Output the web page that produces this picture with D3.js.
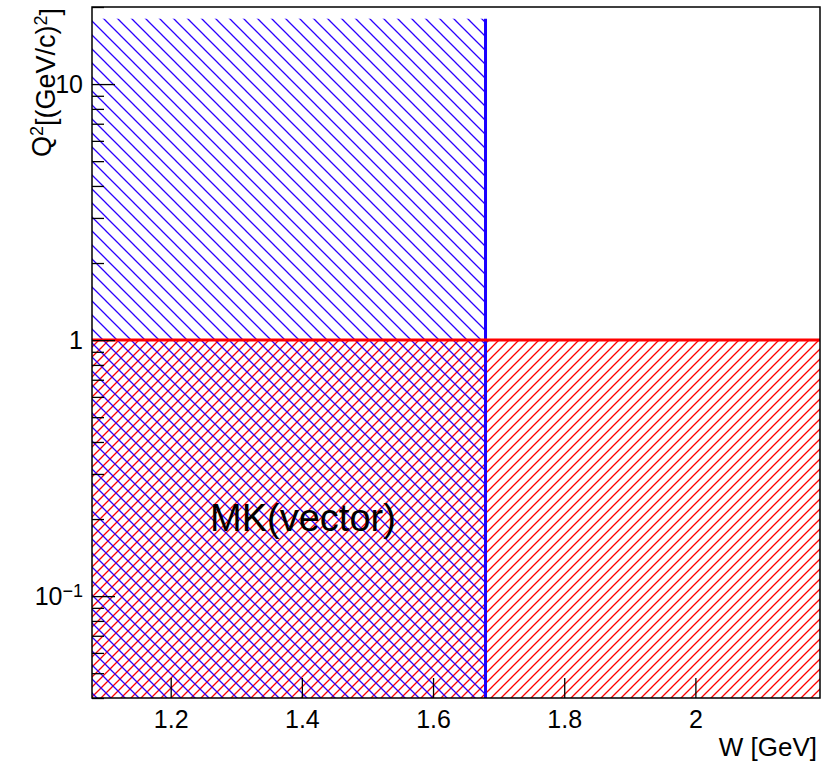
<!DOCTYPE html>
<html>
<head>
<meta charset="utf-8">
<script src="https://cdn.jsdelivr.net/npm/d3@7"></script>
<style>
  html, body { margin: 0; padding: 0; background: #fff; }
  svg { display: block; font-family: "Liberation Sans", Arial, Helvetica, sans-serif; }
</style>
</head>
<body>
<svg id="chart" width="836" height="761"></svg>
<script>
// ---- data ----
const xDomain = [1.08, 2.19];          // W [GeV]
const yDomain = [0.04, 20];            // Q^2 [(GeV/c)^2]
const blueW = [1.08, 1.68];            // region 1 (hatched "\")
const blueQ2 = [0.04, 18];
const redW = [1.08, 2.19];             // region 2 (hatched "/")
const redQ2 = [0.04, 1];
const xTicks = [1.2, 1.4, 1.6, 1.8, 2.0];
const xTickLabels = ["1.2", "1.4", "1.6", "1.8", "2"];
const yMajorTicks = [0.1, 1, 10];
const yMinorTicks = [0.04, 0.05, 0.06, 0.07, 0.08, 0.09,
                     0.2, 0.3, 0.4, 0.5, 0.6, 0.7, 0.8, 0.9,
                     2, 3, 4, 5, 6, 7, 8, 9, 20];
const annotation = { text: "MK(vector)", w: 1.26, q2: 0.18 };

// ---- layout ----
const mL = 92, mR = 820, mT = 7, mB = 698;
const FS = 25;
const svg = d3.select("#chart");
const x = d3.scaleLinear().domain(xDomain).range([mL, mR]);
const y = d3.scaleLog().domain(yDomain).range([mB, mT]);

// ---- hatch patterns ----
const defs = svg.append("defs");
function hatch(id, size, color, dir) {
  const p = defs.append("pattern").attr("id", id)
    .attr("patternUnits", "userSpaceOnUse")
    .attr("width", size).attr("height", size)
    .attr("x", mL).attr("y", mT);
  const d = dir === "back"
    ? `M0,0 L${size},${size} M${-size},0 L${size},${2*size} M0,${-size} L${2*size},${size}`
    : `M0,${size} L${size},0 M${-size},${size} L${size},${-size} M0,${2*size} L${2*size},0`;
  p.append("path").attr("d", d).attr("stroke", color).attr("stroke-width", 1.3).attr("fill", "none");
}
hatch("hatchBlue", 14, "#2a00ff", "back");
hatch("hatchRed", 10, "#ff0000", "fwd");

// red region fill
svg.append("rect")
  .attr("x", x(redW[0])).attr("y", y(redQ2[1]))
  .attr("width", x(redW[1]) - x(redW[0]))
  .attr("height", y(redQ2[0]) - y(redQ2[1]))
  .attr("fill", "url(#hatchRed)");
// blue region fill
svg.append("rect")
  .attr("x", x(blueW[0])).attr("y", y(blueQ2[1]))
  .attr("width", x(blueW[1]) - x(blueW[0]))
  .attr("height", y(blueQ2[0]) - y(blueQ2[1]))
  .attr("fill", "url(#hatchBlue)");

// region border lines
svg.append("line")
  .attr("x1", x(blueW[1])).attr("x2", x(blueW[1]))
  .attr("y1", y(blueQ2[1])).attr("y2", y(blueQ2[0]))
  .attr("stroke", "#1a00ff").attr("stroke-width", 3);
svg.append("line")
  .attr("x1", x(redW[0])).attr("x2", x(redW[1]))
  .attr("y1", y(redQ2[1])).attr("y2", y(redQ2[1]))
  .attr("stroke", "#ff0000").attr("stroke-width", 3);

// annotation
svg.append("text")
  .attr("x", x(annotation.w)).attr("y", y(annotation.q2))
  .attr("font-size", 38).attr("fill", "#000")
  .text(annotation.text);

// ---- axes ----
const xAxis = d3.axisBottom(x).tickValues(xTicks)
  .tickFormat((d, i) => xTickLabels[i])
  .tickSizeInner(-20).tickSizeOuter(0).tickPadding(12);
const gx = svg.append("g").attr("transform", `translate(0,${mB})`).call(xAxis);
gx.select(".domain").remove();
gx.selectAll("line").attr("stroke", "#000").attr("stroke-width", 1.3);
gx.selectAll("text").attr("font-size", FS).attr("fill", "#000").attr("font-family", null);

const yAxisMinor = d3.axisLeft(y).tickValues(yMinorTicks).tickFormat("")
  .tickSizeInner(-12).tickSizeOuter(0);
const gyMinor = svg.append("g").attr("transform", `translate(${mL},0)`).call(yAxisMinor);
gyMinor.select(".domain").remove();
gyMinor.selectAll("line").attr("stroke", "#000").attr("stroke-width", 1.3);

const yAxis = d3.axisLeft(y).tickValues(yMajorTicks).tickFormat("")
  .tickSizeInner(-23).tickSizeOuter(0).tickPadding(9);
const gy = svg.append("g").attr("transform", `translate(${mL},0)`).call(yAxis);
gy.select(".domain").remove();
gy.selectAll("line").attr("stroke", "#000").attr("stroke-width", 1.3);
gy.selectAll(".tick text").each(function(d) {
  const t = d3.select(this).attr("font-size", FS).attr("fill", "#000").attr("font-family", null);
  const e = Math.round(Math.log10(d));
  if (e === 0) t.text("1");
  else if (e === 1) t.text("10");
  else {
    t.append("tspan").text("10");
    t.append("tspan").attr("dy", "-0.45em").attr("font-size", 18).text("\u22121");
  }
});

// frame
svg.append("rect")
  .attr("x", mL).attr("y", mT)
  .attr("width", mR - mL).attr("height", mB - mT)
  .attr("fill", "none").attr("stroke", "#000").attr("stroke-width", 1.5);

// axis titles
svg.append("text")
  .attr("x", 817).attr("y", 756)
  .attr("text-anchor", "end").attr("font-size", 26)
  .text("W [GeV]");

const yt = svg.append("text")
  .attr("transform", `translate(51,8) rotate(-90)`)
  .attr("text-anchor", "end").attr("font-size", 27);
yt.append("tspan").text("Q");
yt.append("tspan").attr("dy", "-0.45em").attr("font-size", 18).text("2");
yt.append("tspan").attr("dy", "0.45em").text("[(GeV/c)");
yt.append("tspan").attr("dy", "-0.45em").attr("font-size", 18).text("2");
yt.append("tspan").attr("dy", "0.45em").text("]");
</script>
</body>
</html>
